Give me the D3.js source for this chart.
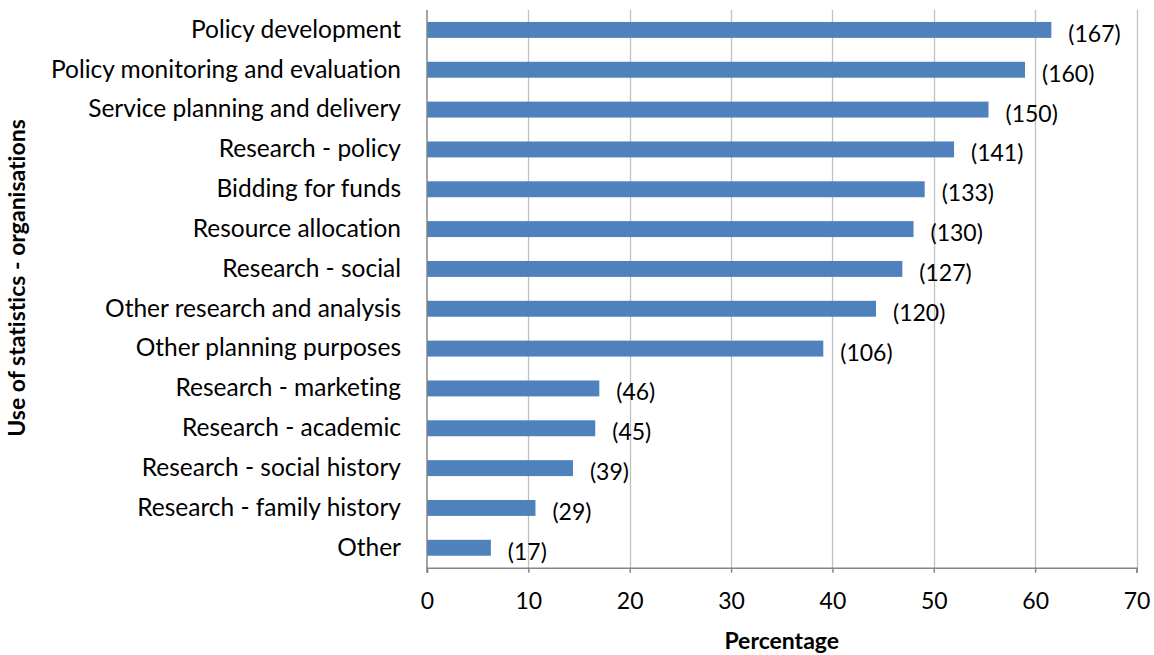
<!DOCTYPE html>
<html>
<head>
<meta charset="utf-8">
<script src="https://cdn.jsdelivr.net/npm/d3@7"></script>
<style>
  html, body { margin: 0; padding: 0; background: #ffffff; }
  svg { display: block; }
  text { font-family: Lato, "Open Sans", sans-serif; fill: #000; font-variant-ligatures: none; font-feature-settings: "liga" 0, "clig" 0; }
</style>
</head>
<body>
<svg id="chart" width="1154" height="655"></svg>
<script>
// Uses of statistics reported by organisations
const categories = [
  "Policy development",
  "Policy monitoring and evaluation",
  "Service planning and delivery",
  "Research - policy",
  "Bidding for funds",
  "Resource allocation",
  "Research - social",
  "Other research and analysis",
  "Other planning purposes",
  "Research - marketing",
  "Research - academic",
  "Research - social history",
  "Research - family history",
  "Other"
];
// share of organisations (%)
const percentages = [61.6, 59.0, 55.4, 52.0, 49.1, 48.0, 46.9, 44.3, 39.1, 17.0, 16.6, 14.4, 10.7, 6.3];
// number of organisations
const counts = [167, 160, 150, 141, 133, 130, 127, 120, 106, 46, 45, 39, 29, 17];
const xTicks = [0, 10, 20, 30, 40, 50, 60, 70];

const rows = categories.map((c, i) => ({ cat: c, pct: percentages[i], n: counts[i] }));

const svg = d3.select("#chart");
const plot = { left: 427, right: 1136.5, top: 10, bottom: 567.7 };

const x = d3.scaleLinear().domain([0, 70]).range([plot.left, plot.right]);
const y = d3.scaleBand().domain(categories).range([plot.top, plot.bottom]).paddingInner(0.6).paddingOuter(0.3);

const labelSize = 24.5;
const numberSize = 23;
const titleSize = 23;

// vertical gridlines
svg.append("g")
  .selectAll("line")
  .data(xTicks.filter(t => t > 0))
  .join("line")
  .attr("x1", d => Math.round(x(d)) + 0.5)
  .attr("x2", d => Math.round(x(d)) + 0.5)
  .attr("y1", plot.top)
  .attr("y2", plot.bottom)
  .attr("stroke", "#c0c0c0")
  .attr("stroke-width", 1.3);

// bars
svg.append("g")
  .selectAll("rect")
  .data(rows)
  .join("rect")
  .attr("x", x(0))
  .attr("y", d => y(d.cat))
  .attr("width", d => x(d.pct) - x(0))
  .attr("height", y.bandwidth())
  .attr("fill", "#4f81bd");

// x axis
const xAxis = d3.axisBottom(x).tickValues(xTicks).tickSize(5).tickPadding(20);
const gx = svg.append("g")
  .attr("transform", `translate(0,${plot.bottom})`)
  .call(xAxis);
gx.select(".domain").attr("stroke", "#868686").attr("stroke-width", 1.5);
gx.selectAll(".tick line").attr("stroke", "#868686").attr("stroke-width", 1.5);
gx.selectAll(".tick text")
  .style("font-family", "Lato, 'Open Sans', sans-serif")
  .style("font-size", numberSize + "px")
  .attr("fill", "#000");

// y axis
const yAxis = d3.axisLeft(y).tickSize(0).tickPadding(26);
const gy = svg.append("g")
  .attr("transform", `translate(${x(0)},0)`)
  .call(yAxis);
gy.select(".domain").attr("stroke", "#868686").attr("stroke-width", 1.5)
  .attr("d", `M0,${plot.top}V${plot.bottom + 5}`);
gy.selectAll(".tick text")
  .style("font-family", "Lato, 'Open Sans', sans-serif")
  .style("font-size", labelSize + "px")
  .attr("fill", "#000");

// value labels
svg.append("g")
  .selectAll("text")
  .data(rows)
  .join("text")
  .attr("x", d => x(d.pct) + 17)
  .attr("y", d => y(d.cat) + y.bandwidth() / 2 + 4)
  .attr("dy", "0.35em")
  .style("font-size", numberSize + "px")
  .text(d => `(${d.n})`);

// axis titles
svg.append("text")
  .attr("x", (plot.left + plot.right) / 2)
  .attr("y", 649)
  .attr("text-anchor", "middle")
  .style("font-size", titleSize + "px")
  .style("font-weight", "bold")
  .text("Percentage");

svg.append("text")
  .attr("transform", `translate(25,278) rotate(-90)`)
  .attr("text-anchor", "middle")
  .style("font-size", titleSize + "px")
  .style("font-weight", "bold")
  .text("Use of statistics - organisations");
</script>
</body>
</html>
